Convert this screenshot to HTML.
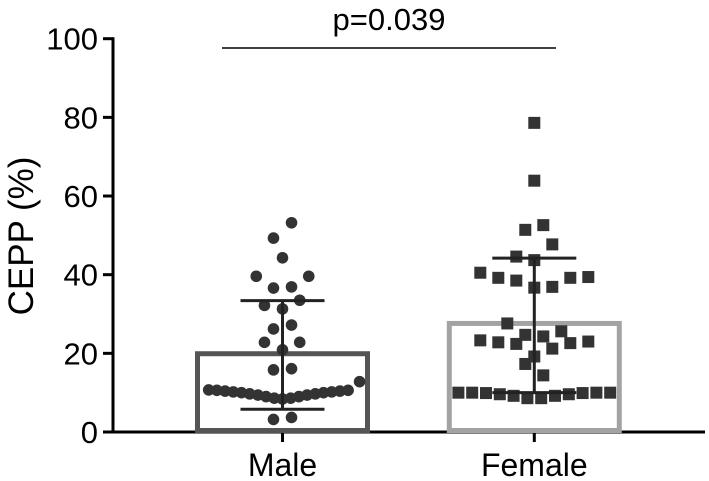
<!DOCTYPE html>
<html><head><meta charset="utf-8"><style>
html,body{margin:0;padding:0;background:#fff;}
svg{display:block;font-family:"Liberation Sans",Arial,sans-serif;}
</style></head><body>
<svg id="chart" width="709" height="481" viewBox="0 0 709 481">
<g id="axes"></g><g id="bars"></g><g id="points"></g><g id="errs"></g>
</svg>
<script>
const categories = ["Male","Female"];
const means = [19.9, 27.6];
const sdHigh = [33.4, 44.2];
const sdLow = [5.8, 10.0];
const yTicks = [0,20,40,60,80,100];
const pLabel = "p=0.039";
const maleValues = [53.2,49.3,44.3,39.6,39.6,36.6,36.9,32.2,33.5,31.3,26.2,27.2,22.8,22.8,20.9,15.8,16.1,3.2,3.7,12.8,
 10.7,10.6,10.4,10.2,10.0,9.7,9.4,9.0,8.6,8.4,8.6,9.0,9.4,9.7,10.0,10.2,10.4,10.6];
const maleJitter = [1.1,-1.1,0,-3.2,3.2,-1.1,1.1,-2.2,2.1,0,-1.1,1.1,-2.2,2.1,0,-1.1,1.1,-1.1,1.1,9.4,
 -9,-8,-7,-6,-5,-4,-3,-2,-1,0,1,2,3,4,5,6,7,8];
const femaleValues = [78.6,63.9,51.4,52.6,47.7,44.6,43.7,40.5,39.2,38.5,36.7,36.9,39.2,39.4,27.6,23.3,22.8,22.4,24.7,24.3,25.6,21.2,22.6,23.0,19.2,17.3,14.4,
 10.0,10.0,9.9,9.6,9.2,8.6,8.6,9.2,9.6,9.9,10.0,10.0];
const femaleJitter = [0,0,-1,1,2,-2,0,-6,-4,-2,0,2,4,6,-3,-6,-4,-2,-1,1,3,2,4,6,0,-1,1,
 -5.5,-4.5,-3.5,-2.5,-1.5,-0.5,0.5,1.5,2.5,3.5,4.5,5.5];

const NS="http://www.w3.org/2000/svg";
const y0=432, y100=38.7;
const yS=v=>y0-(y0-y100)*v/100;
const xC=[282.5,534.3];
function mk(tag,attrs,parent){const e=document.createElementNS(NS,tag);for(const k in attrs)e.setAttribute(k,attrs[k]);document.getElementById(parent).appendChild(e);return e;}

let e=mk('line',{x1:113,y1:yS(100)-1.5,x2:113,y2:y0+1.5,stroke:'#000','stroke-width':3},'axes');


e=mk('line',{x1:111.5,y1:y0,x2:705,y2:y0,stroke:'#000','stroke-width':3},'axes');


yTicks.forEach(t=>{
 let l=mk('line',{x1:103,y1:yS(t),x2:113,y2:yS(t),stroke:'#000','stroke-width':3},'axes');
 
 
 let tx=mk('text',{x:98,y:yS(t)+11,'text-anchor':'end','font-size':31},'axes');tx.textContent=t;
 
 
});
e=mk('text',{x:0,y:0,'text-anchor':'middle','font-size':35,transform:'translate(33,236) rotate(-90)'},'axes');e.textContent='CEPP (%)';


categories.forEach((c,i)=>{
 let l=mk('line',{x1:xC[i],y1:y0,x2:xC[i],y2:y0+10,stroke:'#000','stroke-width':3},'axes');
 
 
 let tx=mk('text',{x:xC[i],y:476,'text-anchor':'middle','font-size':32},'axes');tx.textContent=c;
 
 
});
e=mk('line',{x1:222,y1:48,x2:556,y2:48,stroke:'#000','stroke-width':1.5},'axes');


e=mk('text',{x:389,y:30,'text-anchor':'middle','font-size':31},'axes');e.textContent=pLabel;



const colors=['#555','#a3a3a3'];
categories.forEach((c,i)=>{
 const r=mk('rect',{x:xC[i]-85,y:yS(means[i]),width:170,height:y0-yS(means[i])-1.5,fill:'none',stroke:colors[i],'stroke-width':5},'bars');
 
 
});
maleValues.forEach((v,i)=>{
 const c=mk('circle',{cx:xC[0]+maleJitter[i]*8.2,cy:yS(v),r:5.8,fill:'#333'},'points');
 
 
});
femaleValues.forEach((v,i)=>{
 const step=i>=27?13.8:9;
 const r=mk('rect',{x:xC[1]+femaleJitter[i]*step-6,y:yS(v)-6,width:12,height:12,fill:'#333'},'points');
 
 
});
categories.forEach((c,i)=>{
 let l=mk('line',{x1:xC[i],y1:yS(sdHigh[i]),x2:xC[i],y2:yS(sdLow[i]),stroke:'#222','stroke-width':3},'errs');
 
 
 [sdHigh[i],sdLow[i]].forEach(v=>{
  let cap=mk('line',{x1:xC[i]-42,y1:yS(v),x2:xC[i]+42,y2:yS(v),stroke:'#222','stroke-width':3},'errs');
  
  
 });
});
</script>
</body></html>
